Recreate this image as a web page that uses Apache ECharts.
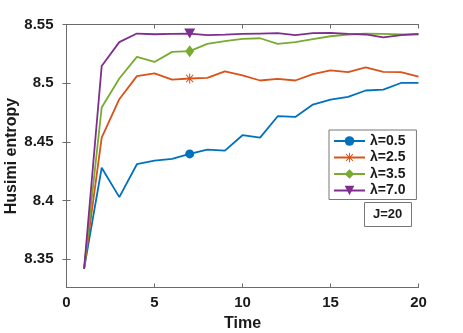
<!DOCTYPE html>
<html lang="en">
<head>
<meta charset="UTF-8">
<title>Husimi entropy</title>
<script src="https://cdn.jsdelivr.net/npm/echarts@6/dist/echarts.min.js"></script>
<style>
  html, body { margin: 0; padding: 0; background: #fff; }
</style>
</head>
<body>
<div id="main" style="width:463px;height:333px;"></div>
<script type="text/javascript">
// data
var timeSteps = [1, 2, 3, 4, 5, 6, 7, 8, 9, 10, 11, 12, 13, 14, 15, 16, 17, 18, 19, 20];
var lam05 = [8.342, 8.428, 8.403, 8.431, 8.434, 8.4355, 8.4398, 8.4435, 8.4426, 8.4557, 8.4537, 8.4719, 8.4713, 8.4818, 8.4861, 8.4883, 8.4938, 8.4946, 8.5002, 8.5002];
var lam25 = [8.342, 8.4537, 8.4864, 8.506, 8.5083, 8.5031, 8.504, 8.5045, 8.510, 8.5066, 8.5023, 8.5037, 8.5023, 8.5077, 8.511, 8.5094, 8.5134, 8.5096, 8.5094, 8.5057];
var lam35 = [8.342, 8.4793, 8.504, 8.5224, 8.5181, 8.5267, 8.5273, 8.5335, 8.5358, 8.5377, 8.5383, 8.5335, 8.535, 8.5375, 8.540, 8.5415, 8.5423, 8.542, 8.5415, 8.5415];
var lam70 = [8.342, 8.5147, 8.535, 8.5423, 8.5417, 8.542, 8.5423, 8.541, 8.5413, 8.542, 8.5423, 8.5426, 8.541, 8.5426, 8.5429, 8.542, 8.5415, 8.539, 8.541, 8.542];
var seriesNames = ['λ=0.5', 'λ=2.5', 'λ=3.5', 'λ=7.0'];
var yTicks = [8.35, 8.4, 8.45, 8.5, 8.55];
var markerAt = 7; // marker only drawn at t = 7

var colors = ['#0072BD', '#D95319', '#77AC30', '#7E2F8E'];
var asterisk = 'path://M-1,-10L1,-10L1,10L-1,10Z M-10,-1L10,-1L10,1L-10,1Z M-6.4,-7.8L7.8,6.4L6.4,7.8L-7.8,-6.4Z M6.4,-7.8L7.8,-6.4L-6.4,7.8L-7.8,6.4Z';
var markers = [
    ['circle', 9],
    [asterisk, 10],
    ['diamond', [9, 12]],
    ['path://M0,10L-10,-7L10,-7Z', [11, 10]]
];
var font = '"Liberation Sans", Arial, Helvetica, sans-serif';
var axisColor = '#6b6b6b';

function fmt(v) { return String(Number(v.toFixed(2))); }

function makeSeries(idx, vals) {
    var data = timeSteps.map(function (t, i) {
        var item = { value: [t, vals[i]] };
        if (t !== markerAt) item.symbol = 'none';
        return item;
    });
    return {
        name: seriesNames[idx],
        type: 'line',
        data: data,
        symbol: markers[idx][0],
        symbolSize: markers[idx][1],
        showSymbol: true,
        color: colors[idx],
        lineStyle: { width: 1.8, color: colors[idx] },
        itemStyle: { color: colors[idx] },
        emphasis: { disabled: true }
    };
}

var myChart = echarts.init(document.getElementById('main'));
myChart.setOption({
    animation: false,
    textStyle: { fontFamily: font },
    grid: { left: 66.5, right: 44.5, top: 24.5, bottom: 45.5, containLabel: false, outerBoundsMode: 'none' },
    title: {
        text: 'J=20',
        left: 364, top: 202,
        padding: [6, 9, 6, 9],
        borderColor: '#777', borderWidth: 1,
        backgroundColor: '#fff',
        textStyle: { fontSize: 13, fontWeight: 'bold', color: '#1a1a1a', fontFamily: font }
    },
    legend: {
        orient: 'vertical',
        left: 329, top: 130,
        padding: [4, 11, 2, 4],
        itemGap: 2.5,
        itemWidth: 31,
        itemHeight: 12,
        borderColor: '#777', borderWidth: 1,
        backgroundColor: '#fff',
        textStyle: { fontSize: 14, fontWeight: 'bold', color: '#1a1a1a', lineHeight: 14, fontFamily: font },
        data: seriesNames
    },
    xAxis: [{
        type: 'value', min: 0, max: 20, interval: 5,
        name: 'Time', nameLocation: 'middle', nameGap: 28, nameMoveOverlap: false,
        nameTextStyle: { fontSize: 16, fontWeight: 'bold', color: '#1a1a1a' },
        axisLine: { lineStyle: { color: axisColor, width: 1 } },
        axisTick: { inside: true, length: 4, lineStyle: { color: axisColor } },
        axisLabel: { fontSize: 15, fontWeight: 'bold', color: '#1a1a1a', margin: 8 },
        splitLine: { show: false }
    }, {
        type: 'value', min: 0, max: 20, interval: 5, position: 'top',
        axisLine: { show: true, lineStyle: { color: axisColor, width: 1 } },
        axisTick: { inside: true, length: 4, lineStyle: { color: axisColor } },
        axisLabel: { show: false },
        splitLine: { show: false }
    }],
    yAxis: [{
        type: 'value', min: 8.326, max: 8.55,
        name: 'Husimi entropy', nameLocation: 'middle', nameGap: 47, nameMoveOverlap: false,
        nameTextStyle: { fontSize: 16, fontWeight: 'bold', color: '#1a1a1a' },
        axisLine: { show: true, lineStyle: { color: axisColor, width: 1 } },
        axisTick: { inside: true, length: 4, customValues: yTicks, lineStyle: { color: axisColor } },
        axisLabel: { fontSize: 15, fontWeight: 'bold', color: '#1a1a1a', margin: 13, customValues: yTicks, formatter: fmt },
        splitLine: { show: false }
    }, {
        type: 'value', min: 8.326, max: 8.55, position: 'right',
        axisLine: { show: true, lineStyle: { color: axisColor, width: 1 } },
        axisTick: { inside: true, length: 4, customValues: yTicks, lineStyle: { color: axisColor } },
        axisLabel: { show: false, customValues: yTicks },
        splitLine: { show: false }
    }],
    series: [
        makeSeries(0, lam05),
        makeSeries(1, lam25),
        makeSeries(2, lam35),
        makeSeries(3, lam70)
    ]
});
</script>
</body>
</html>
